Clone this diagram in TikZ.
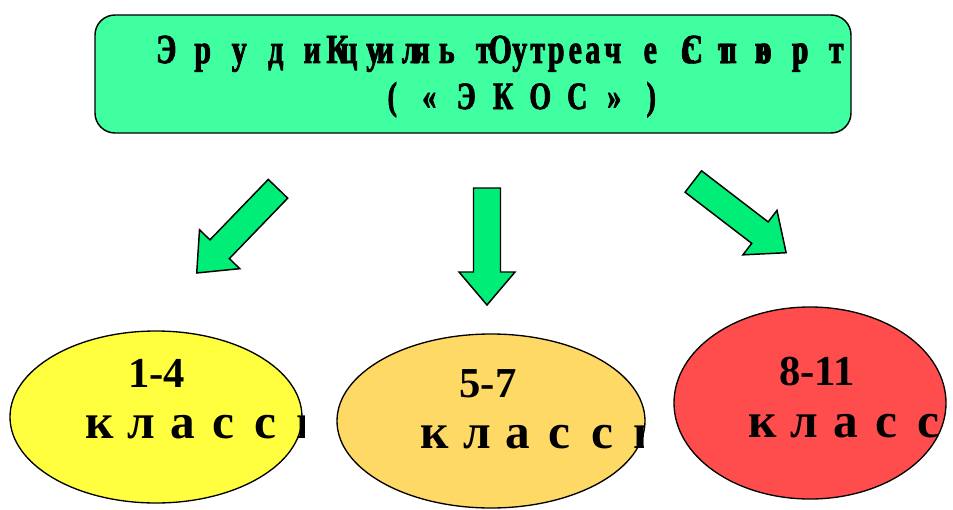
\documentclass[tikz,border=0pt]{standalone}
\usepackage{fontspec}
\setmainfont{Liberation Serif}
\newfontfamily\condfont[FakeStretch=0.72,FakeBold=2]{Liberation Serif Bold}
\usetikzlibrary{shapes.geometric}
\newlength\lpitch
\newcommand\lbx[1]{\makebox[\lpitch]{#1}}
\newcommand\lbl[1]{\makebox[\lpitch][l]{#1}}
\definecolor{titlegreen}{RGB}{64,255,160}
\definecolor{arrowgreen}{RGB}{0,238,120}
\definecolor{ovyellow}{RGB}{255,255,64}
\definecolor{ovorange}{RGB}{255,217,102}
\definecolor{ovred}{RGB}{255,77,77}
\newcommand\blockarrow[3]{%
  \draw[blockarrow, shift={(#1,#2)}, rotate=#3]
    (0,13.5) -- (84,13.5) -- (84,28) -- (117,0) -- (84,-28) -- (84,-13.5) -- (0,-13.5) -- cycle;}
\begin{document}
\begin{tikzpicture}[x=0.75pt,y=-0.75pt,
  titlebox/.style={draw=black, line width=1.1pt, fill=titlegreen, rounded corners=15pt, rectangle, inner sep=0pt},
  blockarrow/.style={draw=black, line width=1.1pt, fill=arrowgreen, line join=miter},
  oval/.style={ellipse, draw=black, line width=1pt, inner sep=0pt},
  ttl/.style={font=\condfont\fontsize{31}{35}\selectfont, anchor=base west, inner sep=0pt},
  ttltwo/.style={font=\condfont\fontsize{29}{33}\selectfont, anchor=base west, inner sep=0pt},
  grade/.style={font=\bfseries\fontsize{32}{36}\selectfont, anchor=base, inner sep=0pt},
  klass/.style={font=\bfseries\fontsize{37}{40}\selectfont, anchor=base west, inner sep=0pt}
]
\useasboundingbox (0,0) rectangle (953,510);

% title box
\node[titlebox, minimum width=567pt, minimum height=88.5pt] (title) at (473,74) {};
\node[ttl] (w1) at (147.75,63) {\setlength\lpitch{27.375pt}\lbx{Э}\lbx{р}\lbx{у}\lbx{д}\lbx{и}\lbx{ц}\lbx{и}\lbx{я}};
\node[ttl] (w2) at (318.75,63) {\setlength\lpitch{27.375pt}\lbx{К}\lbx{у}\lbx{л}\lbx{ь}\lbx{т}\lbx{у}\lbx{р}\lbx{а}};
\node[ttl] (w3) at (481.25,63) {\setlength\lpitch{28.125pt}\lbx{О}\lbx{т}\lbx{е}\lbx{ч}\lbx{е}\lbx{с}\lbx{т}\lbx{в}\lbx{о}};
\node[ttl] (w4) at (674,63) {\setlength\lpitch{27pt}\lbx{С}\lbx{п}\lbx{о}\lbx{р}\lbx{т}};
\node[ttltwo] (w5) at (373.5,109) {\setlength\lpitch{27.75pt}\lbx{(}\lbx{«}\lbx{Э}\lbx{К}\lbx{О}\lbx{С}\lbx{»}\lbx{)}};

% block arrows
\blockarrow{278}{188.8}{-134}
\blockarrow{487}{188}{-90}
\blockarrow{693.3}{181.5}{-37.5}

% ovals
\node[oval, fill=ovyellow, minimum width=219pt, minimum height=129pt] (g1) at (156,417) {};
\node[oval, fill=ovorange, minimum width=231pt, minimum height=130.5pt] (g2) at (491,421) {};
\node[oval, fill=ovred, minimum width=204pt, minimum height=144pt] (g3) at (810,403) {};

\node[grade] (n1) at (156.5,387) {1-4};
\node[grade] (n2) at (488,397) {5-7};
\node[grade] (n3) at (817,385) {8-11};

\begin{scope}
\clip (0,300) rectangle (304,510);
\node[klass] (k1) at (85.5,438) {\setlength\lpitch{31.65pt}\lbl{к}\lbl{л}\lbl{а}\lbl{с}\lbl{с}\lbl{ы}};
\end{scope}
\begin{scope}
\clip (320,300) rectangle (643,510);
\node[klass] (k2) at (420.5,448) {\setlength\lpitch{31.95pt}\lbl{к}\lbl{л}\lbl{а}\lbl{с}\lbl{с}\lbl{ы}};
\end{scope}
\begin{scope}
\clip (660,300) rectangle (953,510);
\node[klass] (k3) at (748.5,437) {\setlength\lpitch{31.65pt}\lbl{к}\lbl{л}\lbl{а}\lbl{с}\lbl{с}\lbl{ы}};
\end{scope}
\end{tikzpicture}
\end{document}
